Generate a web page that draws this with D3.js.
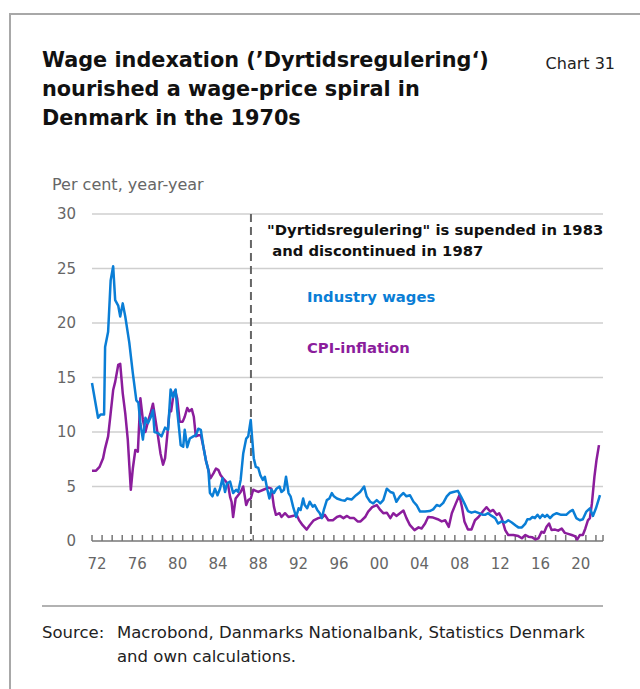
<!DOCTYPE html>
<html>
<head>
<meta charset="utf-8">
<script src="https://cdn.jsdelivr.net/npm/d3@7"></script>
<style>
  body { margin: 0; background: #fff; }
  svg text { font-family: "DejaVu Sans", "Noto Sans", sans-serif; }
</style>
</head>
<body>
<div id="chart"></div>
<script>
  // series: [year, per cent y/y]
  var wages = [[1972.0,14.5],[1972.6,11.3],[1972.85,11.6],[1973.2,11.6],[1973.3,17.8],[1973.6,19.2],[1973.85,23.9],[1974.1,25.2],[1974.3,22.1],[1974.6,21.6],[1974.8,20.6],[1975.05,21.8],[1975.3,20.6],[1975.7,18.2],[1976.05,15.4],[1976.4,12.9],[1976.6,12.7],[1976.8,10.8],[1977.05,9.3],[1977.3,11.3],[1977.55,10.8],[1977.8,11.3],[1978.05,12.0],[1978.2,10.0],[1978.55,9.9],[1978.9,9.6],[1979.25,10.4],[1979.55,10.2],[1979.8,13.9],[1980.05,13.2],[1980.3,13.9],[1980.45,12.0],[1980.65,10.2],[1980.8,8.8],[1981.05,8.65],[1981.2,10.2],[1981.45,8.6],[1981.7,9.4],[1982.05,9.6],[1982.3,9.7],[1982.55,10.3],[1982.8,10.2],[1983.05,8.65],[1983.3,7.4],[1983.55,6.5],[1983.7,4.4],[1983.95,4.1],[1984.2,4.8],[1984.45,4.2],[1984.7,4.8],[1984.95,5.75],[1985.2,4.5],[1985.4,5.3],[1985.7,5.45],[1986.0,4.4],[1986.3,4.7],[1986.5,4.5],[1986.75,5.6],[1987.0,8.0],[1987.3,9.4],[1987.5,9.6],[1987.75,11.1],[1987.9,9.3],[1988.05,7.6],[1988.25,6.8],[1988.5,6.7],[1988.7,6.05],[1988.95,5.6],[1989.15,5.9],[1989.4,4.7],[1989.6,3.9],[1989.8,4.7],[1990.05,4.4],[1990.3,4.8],[1990.6,5.0],[1990.8,4.5],[1991.05,4.7],[1991.25,5.9],[1991.5,4.4],[1991.7,4.1],[1991.95,3.15],[1992.25,2.2],[1992.5,3.0],[1992.7,2.85],[1992.95,3.9],[1993.1,3.3],[1993.35,3.0],[1993.6,3.6],[1993.9,3.15],[1994.1,3.3],[1994.35,2.85],[1994.6,2.55],[1994.8,2.1],[1995.0,2.85],[1995.3,3.75],[1995.55,3.9],[1995.8,4.4],[1996.0,4.1],[1996.3,3.9],[1996.75,3.75],[1997.1,3.7],[1997.3,3.9],[1997.75,3.8],[1998.2,4.2],[1998.6,4.5],[1999.0,5.0],[1999.25,4.1],[1999.6,3.6],[1999.9,3.45],[2000.25,3.75],[2000.6,3.45],[2000.9,3.75],[2001.25,4.8],[2001.6,4.5],[2001.9,4.4],[2002.2,3.6],[2002.55,4.1],[2002.9,4.4],[2003.2,4.1],[2003.55,4.2],[2003.9,3.6],[2004.2,3.3],[2004.55,2.7],[2005.05,2.7],[2005.5,2.75],[2005.85,2.9],[2006.2,3.3],[2006.5,3.2],[2006.85,3.5],[2007.2,4.1],[2007.5,4.4],[2007.85,4.5],[2008.3,4.6],[2008.6,4.1],[2008.95,3.45],[2009.3,2.75],[2009.65,2.6],[2010.0,2.7],[2010.4,2.55],[2010.8,2.4],[2011.0,2.4],[2011.3,2.55],[2011.65,2.3],[2012.0,2.1],[2012.3,1.6],[2012.65,1.8],[2013.0,1.7],[2013.3,1.9],[2013.65,1.7],[2014.0,1.45],[2014.3,1.25],[2014.65,1.25],[2015.0,1.6],[2015.2,2.0],[2015.45,2.0],[2015.7,2.2],[2015.95,2.1],[2016.2,2.4],[2016.45,2.1],[2016.7,2.4],[2016.95,2.2],[2017.15,2.4],[2017.45,2.1],[2017.75,2.4],[2018.1,2.55],[2018.55,2.4],[2019.05,2.4],[2019.4,2.7],[2019.7,2.85],[2020.05,2.1],[2020.4,1.9],[2020.7,2.0],[2021.05,2.7],[2021.4,3.0],[2021.7,2.3],[2022.0,3.0],[2022.4,4.2]];

  var cpi = [[1972.0,6.45],[1972.4,6.45],[1972.75,6.8],[1973.1,7.6],[1973.3,8.5],[1973.6,9.6],[1973.85,11.7],[1974.1,13.85],[1974.3,14.6],[1974.6,16.15],[1974.8,16.25],[1975.05,13.55],[1975.3,11.7],[1975.55,9.3],[1975.85,4.7],[1976.05,6.65],[1976.3,8.35],[1976.55,8.2],[1976.8,13.1],[1977.05,11.1],[1977.3,10.0],[1977.55,10.95],[1977.8,11.7],[1978.05,12.6],[1978.3,11.1],[1978.55,9.6],[1978.8,8.0],[1979.05,7.0],[1979.25,7.6],[1979.55,10.5],[1979.7,12.0],[1979.85,11.9],[1980.1,13.55],[1980.25,13.8],[1980.45,13.1],[1980.7,10.95],[1981.0,10.95],[1981.2,11.4],[1981.45,12.2],[1981.65,11.9],[1981.9,12.1],[1982.1,11.4],[1982.3,9.6],[1982.55,9.7],[1982.8,9.7],[1983.05,8.65],[1983.3,7.4],[1983.55,6.5],[1983.75,5.75],[1984.05,6.2],[1984.3,6.65],[1984.55,6.5],[1984.75,6.05],[1985.0,5.75],[1985.3,5.45],[1985.5,5.15],[1985.7,4.05],[1985.85,3.6],[1986.0,2.2],[1986.25,3.9],[1986.5,4.2],[1986.75,4.5],[1987.0,5.0],[1987.3,3.3],[1987.5,3.75],[1987.75,3.9],[1988.0,4.7],[1988.5,4.5],[1989.0,4.7],[1989.5,4.9],[1989.8,4.8],[1990.05,3.15],[1990.25,2.4],[1990.6,2.55],[1990.8,2.2],[1991.15,2.55],[1991.5,2.2],[1991.9,2.3],[1992.3,2.4],[1992.55,1.9],[1992.9,1.45],[1993.3,1.05],[1993.6,1.45],[1994.0,1.9],[1994.45,2.1],[1994.9,2.2],[1995.1,2.4],[1995.45,1.9],[1995.9,1.9],[1996.3,2.2],[1996.6,2.3],[1996.95,2.1],[1997.3,2.3],[1997.6,2.1],[1998.0,2.1],[1998.35,1.8],[1998.65,1.8],[1999.1,2.2],[1999.4,2.7],[1999.8,3.1],[2000.25,3.3],[2000.6,2.85],[2000.9,2.55],[2001.25,2.6],[2001.6,2.1],[2001.9,2.55],[2002.2,2.3],[2002.55,2.55],[2002.9,2.8],[2003.2,2.1],[2003.55,1.45],[2004.0,1.0],[2004.4,1.25],[2004.7,1.15],[2005.05,1.6],[2005.35,2.2],[2005.85,2.15],[2006.3,2.0],[2006.7,1.8],[2007.05,1.9],[2007.4,1.3],[2007.7,2.55],[2008.1,3.45],[2008.45,4.2],[2008.7,3.15],[2008.95,1.8],[2009.3,1.05],[2009.65,1.05],[2010.0,1.9],[2010.35,2.2],[2010.85,2.8],[2011.15,3.1],[2011.5,2.7],[2011.8,2.85],[2012.15,2.4],[2012.4,2.55],[2012.65,2.1],[2013.0,1.0],[2013.3,0.55],[2013.8,0.55],[2014.3,0.45],[2014.65,0.25],[2015.0,0.55],[2015.3,0.4],[2015.65,0.35],[2016.0,0.15],[2016.3,0.25],[2016.6,0.85],[2016.85,0.75],[2017.1,1.3],[2017.35,1.6],[2017.6,1.0],[2017.95,1.05],[2018.25,0.95],[2018.6,1.15],[2018.9,0.75],[2019.25,0.65],[2019.6,0.55],[2019.9,0.45],[2020.15,0.15],[2020.4,0.55],[2020.7,0.55],[2020.95,1.15],[2021.2,1.9],[2021.4,2.1],[2021.6,3.45],[2021.85,5.9],[2022.05,7.4],[2022.3,8.8]];

  var yTicks = [0, 5, 10, 15, 20, 25, 30],
      xLabelYears = [1972, 1976, 1980, 1984, 1988, 1992, 1996, 2000, 2004, 2008, 2012, 2016, 2020],
      xTickYears = d3.range(1972, 2023),
      breakYear = 1987.77,
      titleLines = ["Wage indexation (\u2019Dyrtidsregulering\u2018)", "nourished a wage-price spiral in", "Denmark in the 1970s"],
      noteLines = ["\"Dyrtidsregulering\" is supended in 1983", " and discontinued in 1987"],
      sourceLines = ["Macrobond, Danmarks Nationalbank, Statistics Denmark", "and own calculations."];

  var blue = "#0a7ed6", purple = "#8b1d9c", grey = "#666";

  var svg = d3.select("#chart").append("svg")
      .attr("width", 640)
      .attr("height", 689);

  // frame
  svg.append("path")
      .attr("d", "M10,689V14H640")
      .attr("fill", "none")
      .attr("stroke", "#a8a8a8")
      .attr("stroke-width", 2);

  svg.selectAll(".title")
      .data(titleLines)
      .enter().append("text")
        .attr("class", "title")
        .attr("x", 42)
        .attr("y", function(d, i) { return 67 + i * 29; })
        .style("font-size", "20.8px")
        .style("font-weight", 700)
        .style("fill", "#111")
        .text(function(d) { return d; });

  svg.append("text")
      .attr("x", 615).attr("y", 69)
      .style("text-anchor", "end")
      .style("font-size", "16px")
      .style("fill", "#222")
      .text("Chart 31");

  svg.append("text")
      .attr("x", 52).attr("y", 190)
      .style("font-size", "16px")
      .style("fill", grey)
      .text("Per cent, year-year");

  var x = d3.scaleLinear().domain([1972, 2022.7]).range([92, 603]),
      y = d3.scaleLinear().domain([0, 30]).range([541, 214]);

  // gridlines
  svg.append("g").selectAll("line")
      .data(yTicks.filter(function(d) { return d > 0; }))
      .enter().append("line")
        .attr("x1", x.range()[0]).attr("x2", x.range()[1])
        .attr("y1", function(d) { return y(d); })
        .attr("y2", function(d) { return y(d); })
        .attr("stroke", "#cfcfcf")
        .attr("stroke-width", 1.5);

  svg.append("g").selectAll("text")
      .data(yTicks)
      .enter().append("text")
        .attr("x", 76)
        .attr("y", function(d) { return y(d); })
        .attr("dy", "0.35em")
        .style("text-anchor", "end")
        .style("font-size", "15px")
        .style("fill", grey)
        .text(function(d) { return d; });

  // x axis: yearly ticks, labels in the middle of the year
  var xAxis = svg.append("g");
  xAxis.append("line")
      .attr("x1", x.range()[0]).attr("x2", x.range()[1])
      .attr("y1", y(0)).attr("y2", y(0))
      .attr("stroke", "#777").attr("stroke-width", 1.5);
  xAxis.selectAll(".tick")
      .data(xTickYears.concat([2022.7]))
      .enter().append("line")
        .attr("class", "tick")
        .attr("x1", function(d) { return x(d); })
        .attr("x2", function(d) { return x(d); })
        .attr("y1", y(0)).attr("y2", y(0) - 6)
        .attr("stroke", "#777").attr("stroke-width", 1.5);
  xAxis.selectAll(".xlabel")
      .data(xLabelYears)
      .enter().append("text")
        .attr("class", "xlabel")
        .attr("x", function(d) { return x(d + 0.5); })
        .attr("y", 569)
        .style("text-anchor", "middle")
        .style("font-size", "15px")
        .style("fill", grey)
        .text(function(d) { return String(d).slice(2); });

  svg.append("line")
      .attr("x1", x(breakYear)).attr("x2", x(breakYear))
      .attr("y1", y(30)).attr("y2", y(0))
      .attr("stroke", "#666")
      .attr("stroke-width", 2)
      .attr("stroke-dasharray", "8,5");

  var line = d3.line()
      .x(function(d) { return x(d[0]); })
      .y(function(d) { return y(d[1]); });

  svg.append("path")
      .datum(cpi)
      .attr("d", line)
      .attr("fill", "none")
      .attr("stroke", purple)
      .attr("stroke-width", 2.5)
      .attr("stroke-linejoin", "round");

  svg.append("path")
      .datum(wages)
      .attr("d", line)
      .attr("fill", "none")
      .attr("stroke", blue)
      .attr("stroke-width", 2.5)
      .attr("stroke-linejoin", "round");

  svg.selectAll(".note")
      .data(noteLines)
      .enter().append("text")
        .attr("class", "note")
        .attr("x", 267)
        .attr("y", function(d, i) { return 235 + i * 21; })
        .style("font-size", "14.8px")
        .style("font-weight", 700)
        .style("fill", "#111")
        .style("white-space", "pre")
        .text(function(d) { return d; });

  svg.append("text")
      .attr("x", 307).attr("y", 302)
      .style("font-size", "14.8px").style("font-weight", 700)
      .style("fill", blue)
      .text("Industry wages");

  svg.append("text")
      .attr("x", 307).attr("y", 353)
      .style("font-size", "14.8px").style("font-weight", 700)
      .style("fill", purple)
      .text("CPI-inflation");

  // footer
  svg.append("line")
      .attr("x1", 42).attr("x2", 603)
      .attr("y1", 606).attr("y2", 606)
      .attr("stroke", "#999").attr("stroke-width", 1.5);

  svg.append("text")
      .attr("x", 42).attr("y", 638)
      .style("font-size", "16.5px").style("fill", "#222")
      .text("Source:");

  svg.selectAll(".source")
      .data(sourceLines)
      .enter().append("text")
        .attr("class", "source")
        .attr("x", 117)
        .attr("y", function(d, i) { return 638 + i * 24; })
        .style("font-size", "16.5px")
        .style("fill", "#222")
        .text(function(d) { return d; });
</script>
</body>
</html>
